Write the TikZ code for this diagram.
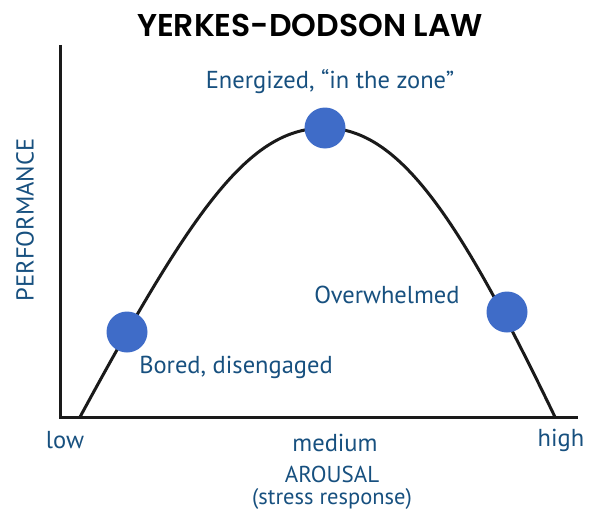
\documentclass[tikz,border=0pt]{standalone}
\usepackage{fontspec}
\setmainfont{PT Sans}
\newfontfamily\titlefont{Poppins}[BoldFont={Poppins SemiBold}]
\definecolor{lbl}{HTML}{17507F}
\definecolor{dot}{HTML}{3F6CC8}
\definecolor{axis}{HTML}{1A1A1A}
\begin{document}
\begin{tikzpicture}[x=1pt,y=-1pt,
  lab/.style={text=lbl,font=\fontsize{24.5}{21}\selectfont,inner sep=0pt,align=center},
  dotc/.style={circle,fill=dot,minimum size=41pt,inner sep=0pt},
  ln/.style={draw=axis,line width=3pt}]
\useasboundingbox (0,0) rectangle (599,511);
\node[inner sep=0pt,font=\titlefont\bfseries\fontsize{31.5}{33}\selectfont] (title) at (310,25) {YERKES-DODSON LAW};
\coordinate (o) at (60,417);
\coordinate (ytop) at (60,45);
\coordinate (xend) at (578,417);
\coordinate (c0) at (80,417);
\coordinate (c1) at (325,128);
\coordinate (c2) at (555,417);
\draw[ln,line cap=butt] (ytop) -- (o) -- (xend);
\draw[ln] (c0) .. controls (195,205) and (250,128) .. (c1) .. controls (400,128) and (460,220) .. (c2);
\node[dotc] (d1) at (127,332) {};
\node[dotc] (d2) at (325,128) {};
\node[dotc] (d3) at (507,312) {};
\node[lab] (l2) at (330,82) {Energized, “in the zone”};
\node[lab] (l3) at (387,295) {Overwhelmed};
\node[lab] (l1) at (236,367) {Bored, disengaged};
\node[lab] (low) at (65,440) {low};
\node[lab] (med) at (335,443) {medium};
\node[lab] (high) at (561,440) {high};
\node[lab,font=\fontsize{23}{21}\selectfont] (ar) at (332,474) {AROUSAL};
\node[lab,font=\fontsize{22.5}{21}\selectfont] (sr) at (332,499) {(stress response)};
\node[lab,rotate=90] (perf) at (25,220) {PERFORMANCE};
\end{tikzpicture}
\end{document}
